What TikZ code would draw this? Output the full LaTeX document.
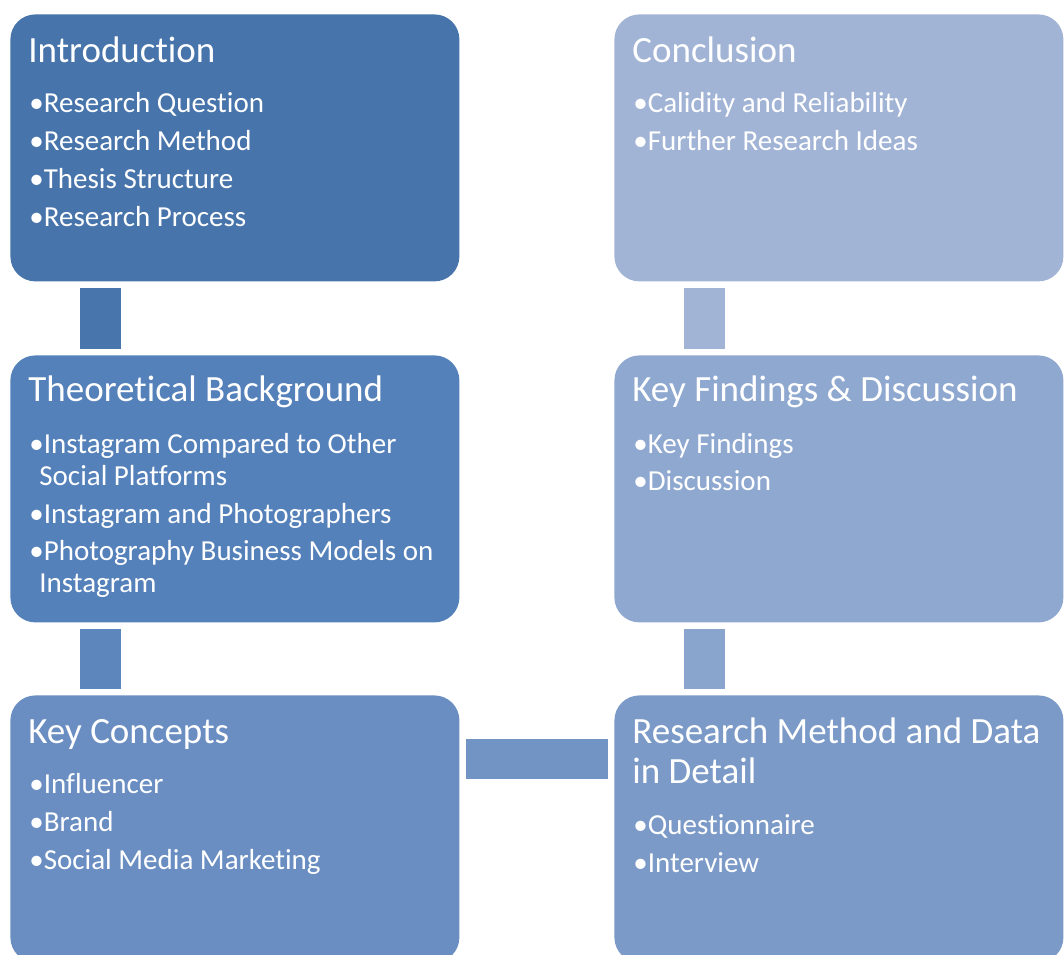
\documentclass[tikz,border=0pt]{standalone}
\usepackage{fontspec}
\setmainfont{Carlito}[Ligatures={NoCommon}]

\newcommand{\bul}{•}

\begin{document}
\begin{tikzpicture}[x=0.5pt,y=-0.5pt]

    \definecolor{introcol}{HTML}{4774AA}
    \definecolor{theorycol}{HTML}{5581BA}
    \definecolor{conceptcol}{HTML}{6A8EC2}
    \definecolor{methodcol}{HTML}{7B9AC7}
    \definecolor{findcol}{HTML}{8FA8D0}
    \definecolor{conclcol}{HTML}{A2B4D6}

    \tikzset{
      box/.style={rectangle, rounded corners=12.5pt, inner sep=0pt,
        minimum width=224.5pt, minimum height=133.5pt, anchor=north west},
      head/.style={text=white, inner sep=0pt, anchor=base west,
        font=\fontsize{18.5}{22}\selectfont},
      item/.style={text=white, inner sep=0pt, anchor=base west,
        font=\fontsize{14.5}{17}\selectfont},
      bar/.style={line width=20.5pt, shorten <=3pt, shorten >=3pt}
    }

    \useasboundingbox (0,0) rectangle (1064,954);
    \clip (0,0) rectangle (1064,954);

    % boxes
    \node[box, fill=introcol] (intro) at (10,14) {};
    \node[box, fill=theorycol] (theory) at (10,355) {};
    \node[box, fill=conceptcol] (concepts) at (10,695) {};
    \node[box, fill=methodcol] (method) at (614,695) {};
    \node[box, fill=findcol] (findings) at (614,355) {};
    \node[box, fill=conclcol] (concl) at (614,14) {};

    % connecting bars
    \draw[bar, draw=introcol!95!theorycol] ([xshift=45.25pt]intro.south west) -- ([xshift=45.25pt]theory.north west);
    \draw[bar, draw=theorycol!60!conceptcol] ([xshift=45.25pt]theory.south west) -- ([xshift=45.25pt]concepts.north west);
    \draw[bar, line width=20pt, draw=conceptcol!50!methodcol] ([yshift=-32pt]concepts.north east) -- ([yshift=-32pt]method.north west);
    \draw[bar, draw=methodcol!30!findcol] ([xshift=45.25pt]method.north west) -- ([xshift=45.25pt]findings.south west);
    \draw[bar, draw=conclcol] ([xshift=45.25pt]findings.north west) -- ([xshift=45.25pt]concl.south west);

    % Introduction
    \node[head] (introT) at (28,62) {Introduction};
    \node[item] (introA) at (29,112) {\bul Research Question};
    \node[item] (introB) at (29,150) {\bul Research Method};
    \node[item] (introC) at (29,188) {\bul Thesis Structure};
    \node[item] (introD) at (29,226) {\bul Research Process};

    % Theoretical Background
    \node[head] (theoryT) at (28,401) {Theoretical Background};
    \node[item] (theoryA) at (29,453) {\bul Instagram Compared to Other};
    \node[item] (theoryA2) at (39,485) {Social Platforms};
    \node[item] (theoryB) at (29,523) {\bul Instagram and Photographers};
    \node[item] (theoryC) at (29,560) {\bul Photography Business Models on};
    \node[item] (theoryC2) at (39,592) {Instagram};

    % Key Concepts
    \node[head] (conceptsT) at (28,743) {Key Concepts};
    \node[item] (conceptsA) at (29,793) {\bul Influencer};
    \node[item] (conceptsB) at (29,831) {\bul Brand};
    \node[item] (conceptsC) at (29,869) {\bul Social Media Marketing};

    % Research Method and Data
    \node[head] (methodT) at (632,743) {Research Method and Data};
    \node[head] (methodT2) at (632,783) {in Detail};
    \node[item] (methodA) at (633,834) {\bul Questionnaire};
    \node[item] (methodB) at (633,872) {\bul Interview};

    % Key Findings
    \node[head] (findingsT) at (632,401) {Key Findings \& Discussion};
    \node[item] (findingsA) at (633,453) {\bul Key Findings};
    \node[item] (findingsB) at (633,490) {\bul Discussion};

    % Conclusion
    \node[head] (conclT) at (632,62) {Conclusion};
    \node[item] (conclA) at (633,112) {\bul Calidity and Reliability};
    \node[item] (conclB) at (633,150) {\bul Further Research Ideas};

\end{tikzpicture}
\end{document}
